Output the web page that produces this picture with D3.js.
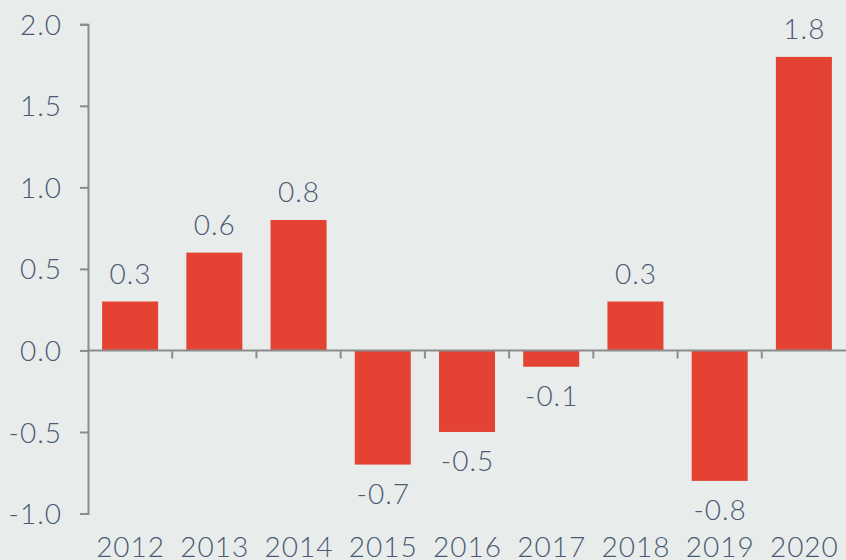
<!DOCTYPE html>
<html>
<head>
<meta charset="utf-8">
<script src="https://cdn.jsdelivr.net/npm/d3@7"></script>
<style>
  html, body { margin: 0; padding: 0; background: #e8edeb; }
  svg { display: block; }
  text { font-family: Lato, "Open Sans", sans-serif; font-weight: 300; fill: #4b5a74; letter-spacing: 1px; }
</style>
</head>
<body>
<div class="chart"></div>
<script>
const years = ['2012', '2013', '2014', '2015', '2016', '2017', '2018', '2019', '2020'];
const values = [0.3, 0.6, 0.8, -0.7, -0.5, -0.1, 0.3, -0.8, 1.8];
const yTicks = [-1.0, -0.5, 0.0, 0.5, 1.0, 1.5, 2.0];

const width = 846;
const height = 560;
const fontSize = 28;

// one decimal, plain hyphen for negatives
const fmt = function(d){ return d3.format('.1f')(d).replace('\u2212', '-') };

let svg = d3.select('.chart').append('svg')
            .attr('width', width)
            .attr('height', height);

let x = d3.scaleBand()
          .domain(years)
          .range([88, 846])
          .padding(0);

let y = d3.scaleLinear()
          .domain([-1, 2])
          .range([513.5, 24.3]);

const barW = x.bandwidth() * 0.665;
const axisColor = '#8c8c8c';

// y axis
let yAxis = svg.append('g')
               .attr('transform', 'translate(88,0)')
               .call(d3.axisLeft(y).tickValues(yTicks).tickSize(8).tickPadding(18)
                       .tickFormat(fmt));
yAxis.select('.domain').attr('stroke', axisColor).attr('stroke-width', 2);
yAxis.selectAll('.tick line').attr('stroke', axisColor).attr('stroke-width', 2);
yAxis.selectAll('.tick text')
     .attr('fill', null)
     .style('font-size', fontSize + 'px')
     .attr('dy', '0.36em');

// bars
svg.selectAll('.bar')
   .data(values)
   .enter()
   .append('rect')
   .attr('class', 'bar')
   .attr('x', function(d, i){ return x(years[i]) + (x.bandwidth() - barW) / 2 })
   .attr('y', function(d){ return y(Math.max(0, d)) })
   .attr('width', barW)
   .attr('height', function(d){ return Math.abs(y(d) - y(0)) })
   .style('fill', '#e44333');

// x axis along zero, ticks at band boundaries
let xAxis = svg.append('g');
xAxis.append('line')
     .attr('x1', 88).attr('x2', width)
     .attr('y1', y(0)).attr('y2', y(0))
     .attr('stroke', axisColor).attr('stroke-width', 2);
xAxis.selectAll('.xtick')
     .data(years.slice(1))
     .enter()
     .append('line')
     .attr('x1', function(d){ return x(d) }).attr('x2', function(d){ return x(d) })
     .attr('y1', y(0)).attr('y2', y(0) + 8)
     .attr('stroke', axisColor).attr('stroke-width', 2);

// year labels
svg.selectAll('.year')
   .data(years)
   .enter()
   .append('text')
   .attr('x', function(d){ return x(d) + x.bandwidth() / 2 + 0.5 })
   .attr('y', 557)
   .attr('text-anchor', 'middle')
   .style('font-size', fontSize + 'px')
   .text(function(d){ return d });

// value labels
svg.selectAll('.val')
   .data(values)
   .enter()
   .append('text')
   .attr('x', function(d, i){ return x(years[i]) + x.bandwidth() / 2 + 0.5 })
   .attr('y', function(d){ return d >= 0 ? y(d) - 18 : y(d) + 39 })
   .attr('text-anchor', 'middle')
   .style('font-size', fontSize + 'px')
   .text(function(d){ return fmt(d) });
</script>
</body>
</html>
